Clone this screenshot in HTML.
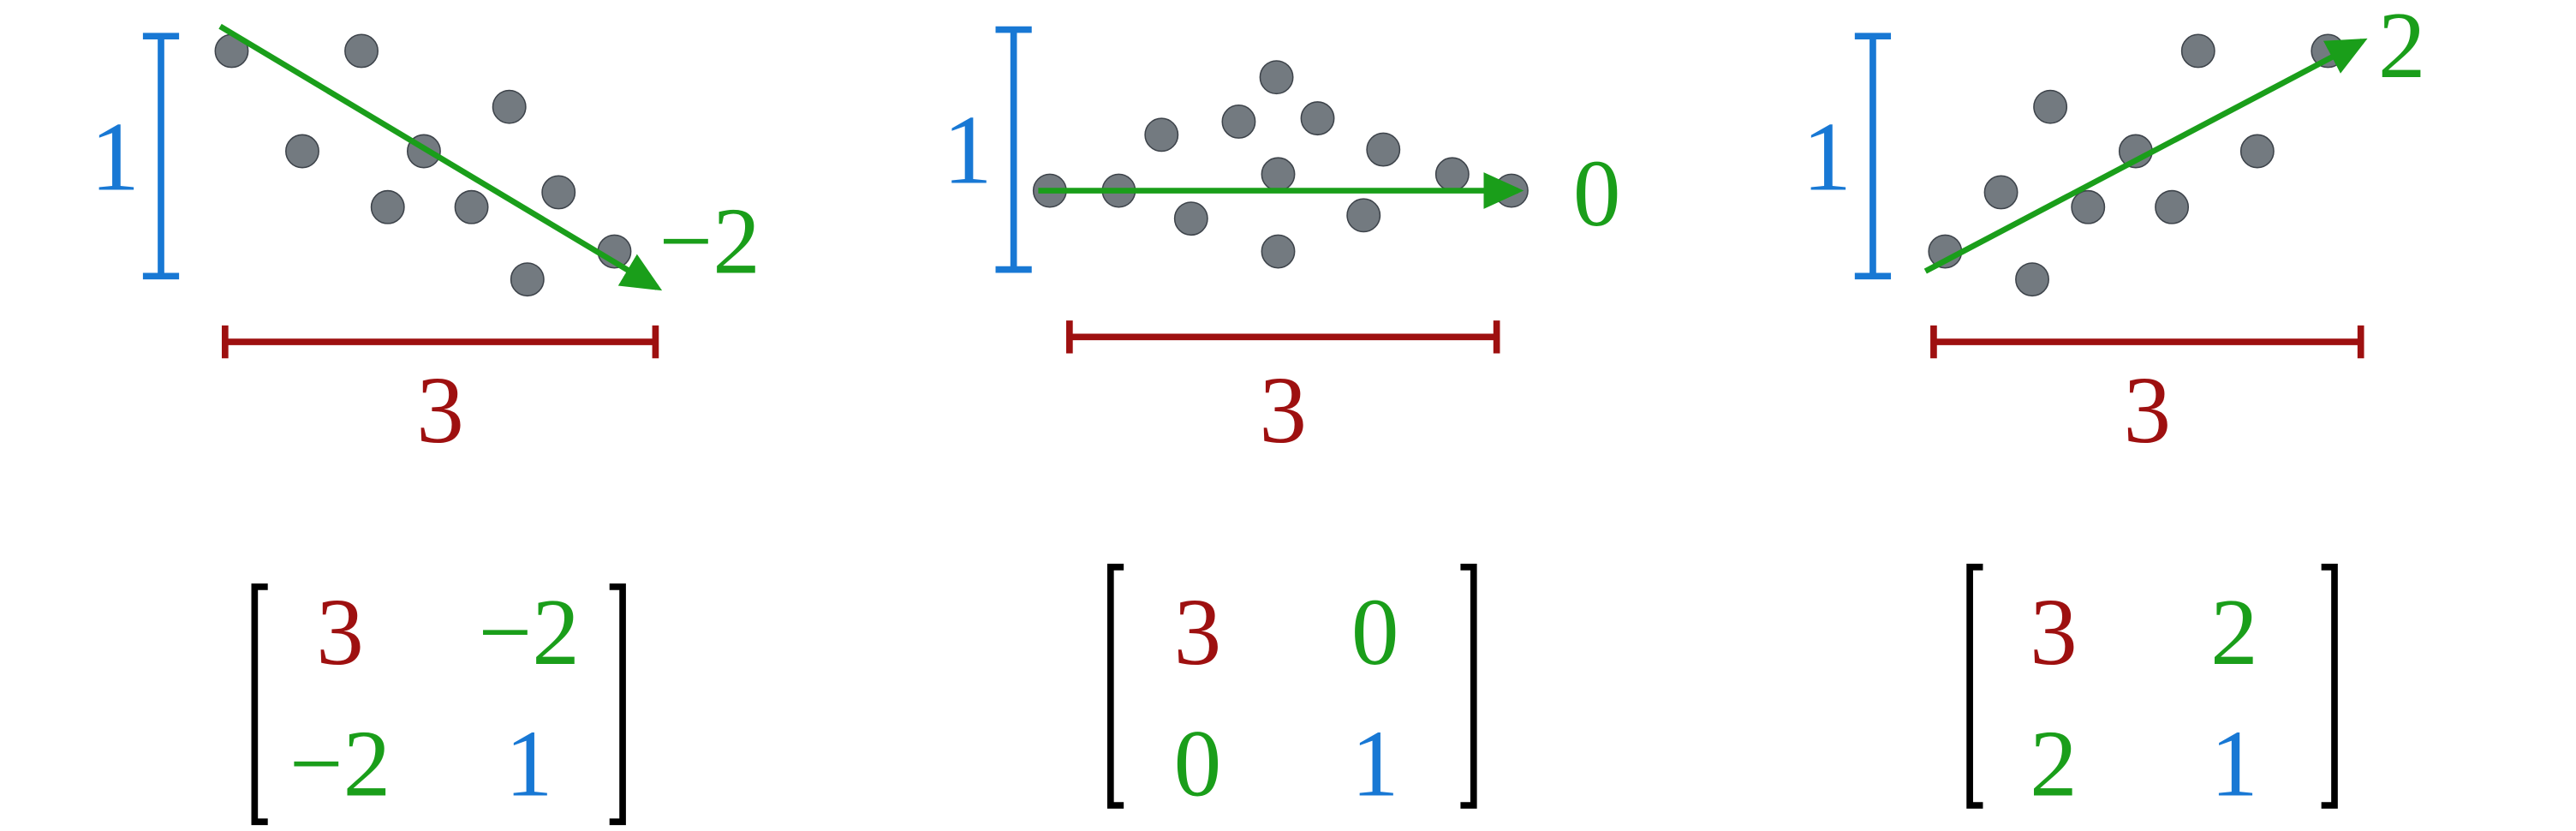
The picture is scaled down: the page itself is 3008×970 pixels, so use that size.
<!DOCTYPE html>
<html><head><meta charset="utf-8"><style>
html,body{margin:0;padding:0;background:#fff;width:3008px;height:970px;overflow:hidden}
svg{display:block}
text{font-family:"Liberation Serif","Times New Roman",serif}
</style></head><body>
<svg id="fig" width="3008" height="970" viewBox="0 0 1568 505.6" preserveAspectRatio="none" xmlns="http://www.w3.org/2000/svg">
<defs>
<marker id="ah" markerWidth="8" markerHeight="8" refX="6" refY="4" orient="auto" markerUnits="strokeWidth">
<path d="M0,0.8 L7,4 L0,7.2 Z" fill="#1a9e1a"/></marker>
</defs>
<g id="panels"></g>
</svg>
<script>
const BLUE='#1878d4', RED='#9e1010', GREEN='#1a9e1a';
const panel1Dots=[[141,31],[220,31],[184,92],[258,92],[310,65],[236,126],[287,126],[340,117],[374,153],[321,170]];
const panel2Dots=[[639,116],[681,116],[707,82],[725,133],[754,74],[777,47],[778,106],[778,153],[802,72],[830,131],[842,91],[884,106],[920,116]];
const panel3Dots=[[1184,153],[1218,117],[1237,170],[1248,65],[1271,126],[1300,92],[1322,126],[1338,31],[1374,92],[1417,31]];
const covValues=[['3','−2','−2','1'],['3','0','0','1'],['3','2','2','1']];
const slopeLabels=['−2','0','2'];
const NS='http://www.w3.org/2000/svg';
const root=document.getElementById('panels');
function mk(tag,attrs,parent){const e=document.createElementNS(NS,tag);for(const k in attrs)e.setAttribute(k,attrs[k]);(parent||root).appendChild(e);return e;}
function txt(x,y,s,color,size,name,parent){const t=mk('text',{x:x,y:y,fill:color,'font-size':size,'font-family':'Liberation Serif, Times New Roman, serif','text-anchor':'middle','dominant-baseline':'central'},parent);t.textContent=s;


return t;}
const layout=[
 {dots:panel1Dots,bx:98,by0:22,by1:168,rx0:137,rx1:399,ry:208,arrow:[134,16,400,175],sl:[432,147],mb:[155,379,357,500],cols:[207,322],rows:[385,465]},
 {dots:panel2Dots,bx:617,by0:18,by1:164,rx0:651,rx1:911,ry:205,arrow:[632,116,924,116],sl:[972,118],mb:[676,897,345,490],cols:[729,837],rows:[385,465]},
 {dots:panel3Dots,bx:1140,by0:22,by1:168,rx0:1177,rx1:1437,ry:208,arrow:[1172,165,1438,25],sl:[1462,28],mb:[1199,1421,345,490],cols:[1250,1360],rows:[385,465]}
];
layout.forEach((p,i)=>{
 const g=mk('g',{});
 
 
 const b=mk('path',{d:`M${p.bx},${p.by0}V${p.by1}M${p.bx-11},${p.by0}H${p.bx+11}M${p.bx-11},${p.by1}H${p.bx+11}`,stroke:BLUE,'stroke-width':4,fill:'none'},g);
 
 
 txt(p.bx-28,(p.by0+p.by1)/2,'1',BLUE,60,'vertical-scale-label',g);
 const r=mk('path',{d:`M${p.rx0},${p.ry}H${p.rx1}M${p.rx0},${p.ry-10}V${p.ry+10}M${p.rx1},${p.ry-10}V${p.ry+10}`,stroke:RED,'stroke-width':4,fill:'none'},g);
 
 
 txt((p.rx0+p.rx1)/2,250,'3',RED,58,'horizontal-scale-label',g);
 p.dots.forEach(d=>{const c=mk('circle',{cx:d[0],cy:d[1],r:10,fill:'#737a80',stroke:'#3d434a','stroke-width':0.8},g);
  
  });
 const a=p.arrow;
 const ar=mk('line',{x1:a[0],y1:a[1],x2:a[2],y2:a[3],stroke:GREEN,'stroke-width':3.5,'marker-end':'url(#ah)'},g);
 
 
 txt(p.sl[0],p.sl[1],slopeLabels[i],GREEN,58,'slope-label',g);
 const m=p.mb;
 const lb=mk('path',{d:`M${m[0]+8},${m[2]}H${m[0]}V${m[3]}H${m[0]+8}`,stroke:'#000','stroke-width':4,fill:'none'},g);
 
 
 const rb=mk('path',{d:`M${m[1]-8},${m[2]}H${m[1]}V${m[3]}H${m[1]-8}`,stroke:'#000','stroke-width':4,fill:'none'},g);
 
 
 const vals=covValues[i];
 const colors=[RED,GREEN,GREEN,BLUE];
 vals.forEach((v,k)=>{txt(p.cols[k%2],p.rows[Math.floor(k/2)],v,colors[k],58,'matrix-entry',g);});
});
</script>
</body></html>
